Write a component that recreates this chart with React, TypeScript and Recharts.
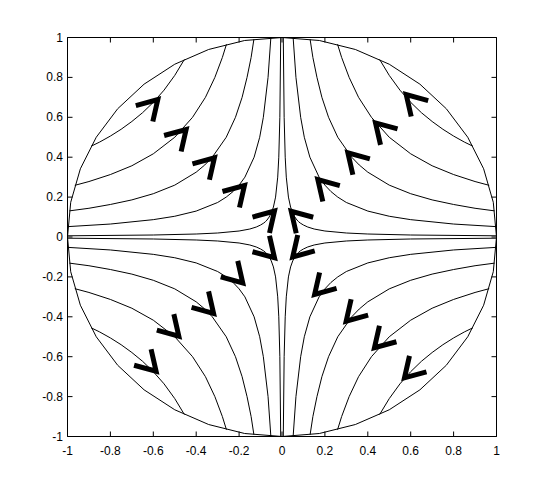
import React from 'react'
import { ScatterChart, Scatter, XAxis, YAxis, ReferenceArea } from 'recharts'

// Phase portrait of a saddle: hyperbolic trajectories inside the unit circle.

const X_TICKS = [-1, -0.8, -0.6, -0.4, -0.2, 0, 0.2, 0.4, 0.6, 0.8, 1]
const Y_TICKS = [-1, -0.8, -0.6, -0.4, -0.2, 0, 0.2, 0.4, 0.6, 0.8, 1]

// upper-right trajectories, outermost first
const CURVE_A = [[0.89, 0.455], [0.85, 0.476], [0.8, 0.506], [0.75, 0.54], [0.7, 0.579], [0.65, 0.623], [0.6, 0.675], [0.55, 0.736], [0.5, 0.81], [0.455, 0.89]]
const CURVE_B = [[0.966, 0.259], [0.9, 0.278], [0.8, 0.313], [0.7, 0.357], [0.6, 0.417], [0.5, 0.5], [0.417, 0.6], [0.357, 0.7], [0.313, 0.8], [0.278, 0.9], [0.259, 0.966]]
const CURVE_C = [[0.991, 0.131], [0.9, 0.144], [0.8, 0.163], [0.7, 0.186], [0.6, 0.217], [0.5, 0.26], [0.4, 0.325], [0.36, 0.361], [0.325, 0.4], [0.26, 0.5], [0.217, 0.6], [0.186, 0.7], [0.163, 0.8], [0.144, 0.9], [0.131, 0.991]]
const CURVE_D = [[0.999, 0.052], [0.8, 0.065], [0.6, 0.087], [0.5, 0.104], [0.4, 0.13], [0.3, 0.173], [0.26, 0.2], [0.228, 0.228], [0.2, 0.26], [0.173, 0.3], [0.13, 0.4], [0.104, 0.5], [0.087, 0.6], [0.065, 0.8], [0.052, 0.999]]
const CURVE_E = [[1, 0.006], [0.6, 0.01], [0.4, 0.015], [0.3, 0.02], [0.2, 0.03], [0.15, 0.04], [0.12, 0.05], [0.1, 0.06], [0.085, 0.07], [0.077, 0.077], [0.07, 0.085], [0.06, 0.1], [0.05, 0.12], [0.04, 0.15], [0.03, 0.2], [0.02, 0.3], [0.015, 0.4], [0.01, 0.6], [0.006, 1]]
const UR_CURVES = [CURVE_A, CURVE_B, CURVE_C, CURVE_D, CURVE_E]

// data-space sign of each quadrant
const QUADRANTS = [
  { sx: 1, sy: 1 },
  { sx: -1, sy: 1 },
  { sx: -1, sy: -1 },
  { sx: 1, sy: -1 },
]

const CIRCLE = [
  [1, 0], [0.985, 0.174], [0.94, 0.342], [0.866, 0.5], [0.766, 0.643], [0.643, 0.766], [0.5, 0.866], [0.342, 0.94], [0.174, 0.985],
  [0, 1], [-0.174, 0.985], [-0.342, 0.94], [-0.5, 0.866], [-0.643, 0.766], [-0.766, 0.643], [-0.866, 0.5], [-0.94, 0.342], [-0.985, 0.174],
  [-1, 0], [-0.985, -0.174], [-0.94, -0.342], [-0.866, -0.5], [-0.766, -0.643], [-0.643, -0.766], [-0.5, -0.866], [-0.342, -0.94], [-0.174, -0.985],
  [0, -1], [0.174, -0.985], [0.342, -0.94], [0.5, -0.866], [0.643, -0.766], [0.766, -0.643], [0.866, -0.5], [0.94, -0.342], [0.985, -0.174],
  [1, 0],
]

// arrowhead tips, one per trajectory
const ARROWS_UR = [[0.579, 0.714], [0.436, 0.572], [0.307, 0.422], [0.167, 0.288], [0.043, 0.129]]
const ARROWS_UL = [[-0.579, 0.689], [-0.447, 0.539], [-0.315, 0.397], [-0.175, 0.258], [-0.035, 0.13]]
const ARROWS_LL = [[-0.587, -0.673], [-0.481, -0.497], [-0.319, -0.383], [-0.183, -0.23], [-0.035, -0.104]]
const ARROWS_LR = [[0.571, -0.706], [0.431, -0.555], [0.299, -0.422], [0.152, -0.288], [0.05, -0.1]]

const PLOT = { left: 67.5, top: 37.5, right: 496.5, bottom: 436.5 }
const TICK_LEN = 5
const FONT = '"Liberation Sans", Arial, Helvetica, sans-serif'

const toPts = (arr: number[][]) => arr.map(([x, y]) => ({ x, y }))

const curves = QUADRANTS.flatMap(q =>
  UR_CURVES.map(c => c.map(([x, y]) => ({ x: q.sx * x, y: q.sy * y })))
)

// pixel direction of the two chevron arms (arrow points away from them)
const arrowGroups = [
  { pts: ARROWS_UR, ax: 1, ay: 1 },
  { pts: ARROWS_UL, ax: -1, ay: 1 },
  { pts: ARROWS_LL, ax: -1, ay: -1 },
  { pts: ARROWS_LR, ax: 1, ay: -1 },
]

const makeChevron = (ax: number, ay: number) => (props: any) => {
  const { cx, cy } = props
  if (cx == null || cy == null) return <g />
  const d = `M ${cx + ax * 5} ${cy + ay * 22} L ${cx} ${cy} L ${cx + ax * 22} ${cy + ay * 6}`
  return <path d={d} fill="none" stroke="#000" strokeWidth={5} strokeLinejoin="miter" />
}

const noDot = () => <g />

const XTick = (props: any) => {
  const { x, payload } = props
  return (
    <g>
      <line x1={x} x2={x} y1={PLOT.bottom} y2={PLOT.bottom - TICK_LEN} stroke="#000" />
      <line x1={x} x2={x} y1={PLOT.top} y2={PLOT.top + TICK_LEN} stroke="#000" />
      <text x={x} y={455} textAnchor="middle" fontSize={12} fontFamily={FONT} fill="#000">
        {String(payload.value)}
      </text>
    </g>
  )
}

const YTick = (props: any) => {
  const { y, payload } = props
  return (
    <g>
      <line x1={PLOT.left} x2={PLOT.left + TICK_LEN} y1={y} y2={y} stroke="#000" />
      <line x1={PLOT.right} x2={PLOT.right - TICK_LEN} y1={y} y2={y} stroke="#000" />
      <text x={63} y={y + 4} textAnchor="end" fontSize={12} fontFamily={FONT} fill="#000">
        {String(payload.value)}
      </text>
    </g>
  )
}

export default function App() {
  return (
    <div style={{ position: 'absolute', left: 0, top: 0, width: 549, height: 491, background: '#fff' }}>
      <ScatterChart
        width={549}
        height={491}
        margin={{ top: 37.5, right: 52.5, bottom: 24.5, left: 27.5 }}
      >
        <XAxis
          type="number"
          dataKey="x"
          domain={[-1, 1]}
          ticks={X_TICKS}
          interval={0}
          tick={XTick}
          tickLine={false}
          axisLine={false}
          height={30}
          allowDataOverflow
        />
        <YAxis
          type="number"
          dataKey="y"
          domain={[-1, 1]}
          ticks={Y_TICKS}
          interval={0}
          tick={YTick}
          tickLine={false}
          axisLine={false}
          width={40}
          allowDataOverflow
        />
        <Scatter
          data={toPts(CIRCLE)}
          line={{ stroke: '#000', strokeWidth: 1 }}
          lineType="joint"
          shape={noDot}
          isAnimationActive={false}
        />
        {curves.map((c, i) => (
          <Scatter
            key={'c' + i}
            data={c}
            line={{ stroke: '#000', strokeWidth: 1 }}
            lineType="joint"
            shape={noDot}
            isAnimationActive={false}
          />
        ))}
        {arrowGroups.map((g, i) => (
          <Scatter
            key={'a' + i}
            data={toPts(g.pts)}
            shape={makeChevron(g.ax, g.ay)}
            isAnimationActive={false}
          />
        ))}
        <ReferenceArea
          x1={-1}
          x2={1}
          y1={-1}
          y2={1}
          fill="none"
          fillOpacity={0}
          stroke="#000"
          strokeWidth={1}
          ifOverflow="visible"
        />
      </ScatterChart>
    </div>
  )
}
